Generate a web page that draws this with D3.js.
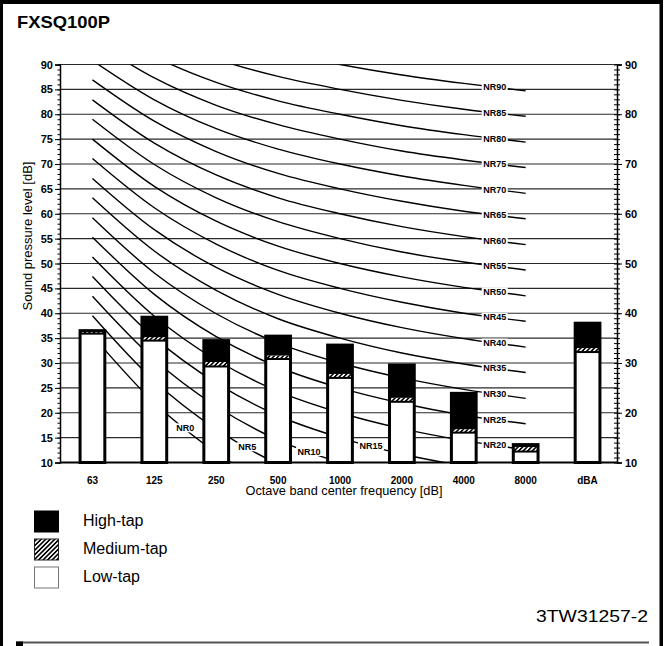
<!DOCTYPE html>
<html>
<head>
<meta charset="utf-8">
<script src="https://cdn.jsdelivr.net/npm/d3@7"></script>
<style>
  html, body { margin: 0; padding: 0; background: #fff; }
  svg { display: block; font-family: "Liberation Sans", Arial, Helvetica, sans-serif; }
</style>
</head>
<body>
<svg id="chart" width="665" height="646"></svg>
<script>
// Octave bands (plus overall dBA) and sound pressure per fan tap [dB]
const categories = ["63", "125", "250", "500", "1000", "2000", "4000", "8000", "dBA"];
const highTap   = [36.5, 39.2, 34.5, 35.4, 33.6, 29.6, 23.9, 13.6, 38.0];
const mediumTap = [36.5, 35.2, 30.2, 31.5, 27.8, 23.0, 16.7, 13.1, 33.0];
const lowTap    = [35.9, 34.5, 29.3, 30.8, 27.0, 22.2, 16.0, 12.2, 32.2];

// Axis tick labels
const leftTicks  = [10, 15, 20, 25, 30, 35, 40, 45, 50, 55, 60, 65, 70, 75, 80, 85, 90];
const rightTicks = [10, 20, 30, 40, 50, 60, 70, 80, 90];

// Noise rating curves NR0..NR90 over the octave bands 63..8000 Hz
const nrBands  = ["63", "125", "250", "500", "1000", "2000", "4000", "8000"];
const nrLevels = [0, 5, 10, 15, 20, 25, 30, 35, 40, 45, 50, 55, 60, 65, 70, 75, 80, 85, 90];
const nrValues = [
  [35.5, 22.0, 12.0,  4.8,  0.0, -3.5, -6.1, -8.0],
  [39.5, 26.4, 16.7,  9.7,  5.0,  1.6, -1.0, -2.9],
  [43.4, 30.7, 21.3, 14.5, 10.0,  6.7,  4.2,  2.3],
  [47.4, 35.1, 26.0, 19.4, 15.0, 11.7,  9.3,  7.5],
  [51.3, 39.4, 30.6, 24.3, 20.0, 16.8, 14.4, 12.6],
  [55.3, 43.8, 35.3, 29.2, 25.0, 21.9, 19.5, 17.8],
  [59.2, 48.1, 39.9, 34.0, 30.0, 27.0, 24.7, 22.9],
  [63.2, 52.5, 44.6, 38.9, 35.0, 32.0, 29.8, 28.1],
  [67.1, 56.8, 49.2, 43.8, 40.0, 37.1, 34.9, 33.2],
  [71.1, 61.2, 53.9, 48.6, 45.0, 42.2, 40.0, 38.4],
  [75.0, 65.5, 58.5, 53.5, 50.0, 47.3, 45.2, 43.5],
  [79.0, 69.9, 63.2, 58.4, 55.0, 52.3, 50.3, 48.7],
  [82.9, 74.2, 67.8, 63.2, 60.0, 57.4, 55.4, 53.8],
  [86.9, 78.6, 72.5, 68.1, 65.0, 62.5, 60.5, 59.0],
  [90.8, 82.9, 77.1, 73.0, 70.0, 67.6, 65.7, 64.1],
  [94.8, 87.3, 81.8, 77.9, 75.0, 72.6, 70.8, 69.3],
  [98.7, 91.6, 86.4, 82.7, 80.0, 77.7, 75.9, 74.4],
  [102.7, 96.0, 91.1, 87.6, 85.0, 82.8, 81.0, 79.6],
  [106.6, 100.3, 95.7, 92.5, 90.0, 87.9, 86.2, 84.7]
];
// Band segment (start index) on which each NR label sits
const nrLabelSegment = [1, 2, 3, 4, 6, 6, 6, 6, 6, 6, 6, 6, 6, 6, 6, 6, 6, 6, 6];

const legendItems = ["High-tap", "Medium-tap", "Low-tap"];

const svg = d3.select("#chart");
const plotLeft = 60, plotRight = 617, plotTop = 64.5, plotBottom = 462.5;

const x = d3.scaleBand().domain(categories).range([61.5, 618.5])
  .paddingInner(0.6).paddingOuter(0.3);
const cx = c => x(c) + x.bandwidth() / 2;
const y = d3.scaleLinear().domain([10, 90]).range([plotBottom, plotTop]);

// ---- defs: hatch pattern and plot clip
const defs = svg.append("defs");
const pat = defs.append("pattern").attr("id", "hatch")
  .attr("patternUnits", "userSpaceOnUse").attr("width", 3.2).attr("height", 3.2)
  .attr("patternTransform", "rotate(45)");
pat.append("rect").attr("width", 3.2).attr("height", 3.2).attr("fill", "#fff");
pat.append("line").attr("x1", 0.8).attr("y1", 0).attr("x2", 0.8).attr("y2", 3.2)
  .attr("stroke", "#000").attr("stroke-width", 1.6);
defs.append("clipPath").attr("id", "plotClip").append("rect")
  .attr("x", plotLeft).attr("y", plotTop)
  .attr("width", plotRight - plotLeft).attr("height", plotBottom - plotTop);

// ---- page frame
const frame = svg.append("g");
frame.append("rect").attr("x", 0).attr("y", 0).attr("width", 663).attr("height", 4).attr("fill", "#000");
frame.append("rect").attr("x", 0).attr("y", 0).attr("width", 3).attr("height", 646).attr("fill", "#000");
frame.append("rect").attr("x", 659.5).attr("y", 0).attr("width", 3.5).attr("height", 646).attr("fill", "#000");
frame.append("rect").attr("x", 16).attr("y", 641.5).attr("width", 633).attr("height", 2).attr("fill", "#555");
frame.append("rect").attr("x", 16).attr("y", 641.5).attr("width", 7).attr("height", 4.5).attr("fill", "#000");

// ---- title
svg.append("text").attr("x", 17).attr("y", 28.3)
  .attr("font-size", 17).attr("font-weight", "bold")
  .attr("textLength", 93).attr("lengthAdjust", "spacingAndGlyphs")
  .text("FXSQ100P");

// ---- horizontal grid
svg.append("g").selectAll("line").data(leftTicks).join("line")
  .attr("x1", plotLeft).attr("x2", plotRight)
  .attr("y1", d => y(d)).attr("y2", d => y(d))
  .attr("stroke", "#2a2a2a").attr("stroke-width", 1.2);

// ---- NR curves
const nrLine = d3.line()
  .x((v, i) => cx(nrBands[i]))
  .y(v => y(v))
  .curve(d3.curveMonotoneX);
const curves = svg.append("g").attr("clip-path", "url(#plotClip)");
curves.selectAll("path").data(nrValues).join("path")
  .attr("d", d => nrLine(d))
  .attr("fill", "none").attr("stroke", "#000").attr("stroke-width", 1.4);

// ---- bars (stacked: low / medium / high)
const bars = svg.append("g");
const bw = x.bandwidth();
categories.forEach((c, i) => {
  const g = bars.append("g");
  g.append("rect").attr("x", x(c)).attr("y", y(lowTap[i]))
    .attr("width", bw).attr("height", y(10) - y(lowTap[i])).attr("fill", "#fff");
  g.append("rect").attr("x", x(c)).attr("y", y(mediumTap[i]))
    .attr("width", bw).attr("height", y(lowTap[i]) - y(mediumTap[i])).attr("fill", "url(#hatch)");
  g.append("rect").attr("x", x(c)).attr("y", y(highTap[i]))
    .attr("width", bw).attr("height", Math.max(0, y(mediumTap[i]) - y(highTap[i]))).attr("fill", "#000");
  g.append("line").attr("x1", x(c)).attr("x2", x(c) + bw)
    .attr("y1", y(lowTap[i])).attr("y2", y(lowTap[i]))
    .attr("stroke", "#000").attr("stroke-width", 2);
  g.append("rect").attr("x", x(c)).attr("y", y(highTap[i]))
    .attr("width", bw).attr("height", y(10) - y(highTap[i]))
    .attr("fill", "none").attr("stroke", "#000").attr("stroke-width", 3);
});

// ---- NR labels with white backing
const nrLab = svg.append("g");
nrLevels.forEach((n, k) => {
  const s = nrLabelSegment[k];
  const lx = (cx(nrBands[s]) + cx(nrBands[s + 1])) / 2;
  const lv = (nrValues[k][s] + nrValues[k][s + 1]) / 2;
  const g = nrLab.append("g");
  const t = g.append("text").attr("x", lx).attr("y", y(lv) + 3.2)
    .attr("text-anchor", "middle").attr("font-size", 9).attr("font-weight", "bold")
    .text("NR" + n);
  const bb = t.node().getBBox();
  g.insert("rect", "text").attr("x", bb.x - 1.5).attr("y", bb.y + 0.5)
    .attr("width", bb.width + 3).attr("height", bb.height - 1).attr("fill", "#fff");
});

// ---- left axis
const leftAxis = svg.append("g").attr("transform", `translate(${plotLeft},0)`);
leftAxis.call(d3.axisLeft(y).tickValues(leftTicks).tickSize(5).tickPadding(2).tickFormat(d3.format("d")));
leftAxis.append("g").call(d3.axisLeft(y).tickValues(d3.range(10, 91, 1)).tickSize(2.5).tickFormat(""))
  .select(".domain").remove();
leftAxis.selectAll(".domain").attr("stroke-width", 1.5);
leftAxis.selectAll("text").attr("font-size", 11).attr("font-weight", "bold")
  .attr("font-family", "'Liberation Sans', Arial, sans-serif").attr("fill", "#000");

// ---- right axis
const rightAxis = svg.append("g").attr("transform", `translate(${plotRight},0)`);
rightAxis.call(d3.axisRight(y).tickValues(rightTicks).tickSize(5).tickPadding(3).tickFormat(d3.format("d")));
rightAxis.append("g").call(d3.axisRight(y).tickValues(d3.range(10, 91, 1)).tickSize(3).tickFormat(""))
  .select(".domain").remove();
rightAxis.append("g").call(d3.axisLeft(y).tickValues(d3.range(10, 91, 1)).tickSize(3).tickFormat(""))
  .select(".domain").remove();
rightAxis.selectAll(".domain").attr("stroke-width", 1.5);
rightAxis.selectAll("text").attr("font-size", 11).attr("font-weight", "bold")
  .attr("font-family", "'Liberation Sans', Arial, sans-serif").attr("fill", "#000");

// ---- bottom axis
svg.append("line").attr("x1", plotLeft).attr("x2", plotRight)
  .attr("y1", plotBottom).attr("y2", plotBottom)
  .attr("stroke", "#000").attr("stroke-width", 2);
svg.append("g").selectAll("text").data(categories).join("text")
  .attr("x", d => cx(d)).attr("y", 484)
  .attr("text-anchor", "middle").attr("font-size", 10).attr("font-weight", "bold")
  .text(d => d);

// ---- axis titles
svg.append("text").attr("x", 344).attr("y", 495)
  .attr("text-anchor", "middle").attr("font-size", 13)
  .attr("textLength", 197).attr("lengthAdjust", "spacingAndGlyphs")
  .text("Octave band center frequency [dB]");
svg.append("text").attr("transform", "translate(31.5,236) rotate(-90)")
  .attr("text-anchor", "middle").attr("font-size", 13)
  .text("Sound pressure level [dB]");

// ---- legend
const legend = svg.append("g");
const legendFill = ["#000", "url(#hatch)", "#fff"];
const legendStroke = ["#000", "#222", "#777"];
legendItems.forEach((name, i) => {
  const yy = 511 + i * 28;
  legend.append("rect").attr("x", 34.5).attr("y", yy).attr("width", 24).attr("height", 21)
    .attr("fill", legendFill[i]).attr("stroke", legendStroke[i]).attr("stroke-width", 1);
  legend.append("text").attr("x", 83).attr("y", yy + 14.5)
    .attr("font-size", 16).text(name);
});

// ---- drawing number
svg.append("text").attr("x", 536).attr("y", 621.7)
  .attr("font-size", 17).attr("textLength", 112).attr("lengthAdjust", "spacingAndGlyphs")
  .text("3TW31257-2");
</script>
</body>
</html>
